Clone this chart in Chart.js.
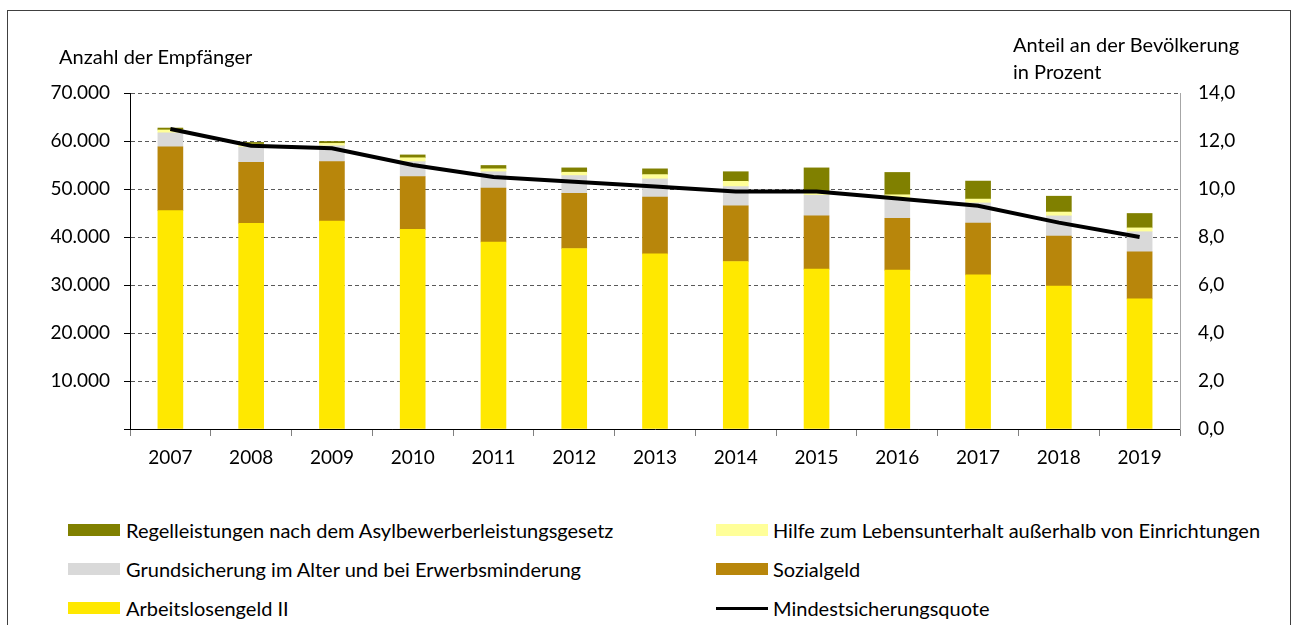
<!DOCTYPE html>
<html><head><meta charset="utf-8">
<script src="https://cdn.jsdelivr.net/npm/chart.js@4/dist/chart.umd.min.js"></script>
<style>
html,body{margin:0;padding:0;background:#fff;}
body{width:1298px;height:625px;position:relative;overflow:hidden;font-family:Lato,'Liberation Sans',sans-serif;color:#000;}
#frame{position:absolute;left:7px;top:10px;width:1284px;height:700px;border:1px solid #404040;box-sizing:border-box;}
#wrap{position:absolute;left:0;top:0;width:1298px;height:500px;}
.t{position:absolute;font-size:20px;line-height:22px;white-space:nowrap;}
.sw{position:absolute;width:52px;height:12px;}
.ln{position:absolute;width:52px;height:3px;background:#000;}
</style></head><body>
<div id="frame"></div>
<div id="wrap"><canvas id="c" width="1298" height="500"></canvas></div>
<div class="t" style="left:59px;top:45px;">Anzahl der Empfänger</div>
<div class="t" style="left:1013px;top:33px;">Anteil an der Bevölkerung</div>
<div class="t" style="left:1013px;top:60px;">in Prozent</div>

<div class="sw" style="left:68px;top:524px;background:#808000"></div>
<div class="t" style="left:126px;top:519px;">Regelleistungen nach dem Asylbewerberleistungsgesetz</div>
<div class="sw" style="left:68px;top:563px;background:#D9D9D9"></div>
<div class="t" style="left:126px;top:558px;">Grundsicherung im Alter und bei Erwerbsminderung</div>
<div class="sw" style="left:68px;top:602px;background:#FFE800"></div>
<div class="t" style="left:126px;top:597px;">Arbeitslosengeld II</div>

<div class="sw" style="left:716px;top:524px;background:#FFFF99"></div>
<div class="t" style="left:773px;top:519px;">Hilfe zum Lebensunterhalt außerhalb von Einrichtungen</div>
<div class="sw" style="left:716px;top:563px;background:#B8860B"></div>
<div class="t" style="left:773px;top:558px;">Sozialgeld</div>
<div class="ln" style="left:716px;top:607px;"></div>
<div class="t" style="left:773px;top:597px;">Mindestsicherungsquote</div>

<script>
const years = ['2007','2008','2009','2010','2011','2012','2013','2014','2015','2016','2017','2018','2019'];
const arbeitslosengeld2 = [45500, 42850, 43300, 41600, 38950, 37600, 36500, 34900, 33300, 33100, 32100, 29800, 27100];
const sozialgeld       = [13300, 12700, 12400, 11000, 11250, 11500, 11800, 11600, 11100, 10800, 10800, 10400, 9800];
const grundsicherung   = [2900, 3200, 3300, 3100, 3400, 3700, 3800, 4000, 4300, 4000, 4200, 4200, 4200];
const hilfeLebensunterhalt = [600, 600, 500, 800, 600, 700, 900, 1100, 700, 900, 800, 800, 800];
const asylbewerber     = [400, 350, 400, 600, 700, 900, 1200, 2000, 5000, 4650, 3750, 3300, 3000];
const quote            = [12.5, 11.8, 11.7, 11.0, 10.5, 10.3, 10.1, 9.9, 9.9, 9.6, 9.3, 8.6, 8.0];
const leftTicks = ['','10.000','20.000','30.000','40.000','50.000','60.000','70.000'];
const rightTicks = ['0,0','2,0','4,0','6,0','8,0','10,0','12,0','14,0'];

Chart.defaults.font.family = "Lato, 'Liberation Sans', sans-serif";
Chart.defaults.font.size = 19;
Chart.defaults.color = '#000';

const barBase = {type:'bar', yAxisID:'y', order:1, barThickness:25, borderWidth:0, stack:'s'};
new Chart(document.getElementById('c'), {
  data: {
    labels: years,
    datasets: [
      {type:'line', label:'Mindestsicherungsquote', data:quote, yAxisID:'y1', order:0,
       borderColor:'#000', borderWidth:4, pointRadius:0, tension:0, fill:false},
      Object.assign({label:'Arbeitslosengeld II', data:arbeitslosengeld2, backgroundColor:'#FFE800'}, barBase),
      Object.assign({label:'Sozialgeld', data:sozialgeld, backgroundColor:'#B8860B'}, barBase),
      Object.assign({label:'Grundsicherung im Alter und bei Erwerbsminderung', data:grundsicherung, backgroundColor:'#D9D9D9'}, barBase),
      Object.assign({label:'Hilfe zum Lebensunterhalt außerhalb von Einrichtungen', data:hilfeLebensunterhalt, backgroundColor:'#FFFF99'}, barBase),
      Object.assign({label:'Regelleistungen nach dem Asylbewerberleistungsgesetz', data:asylbewerber, backgroundColor:'#808000'}, barBase)
    ]
  },
  options: {
    responsive:false, animation:false,
    layout:{padding:{top:93,left:0,right:0,bottom:0}},
    plugins:{legend:{display:false}, tooltip:{enabled:false}},
    scales:{
      x:{stacked:true, offset:true,
         grid:{offset:true, drawOnChartArea:false, tickLength:7, tickColor:'#808080', tickBorderDash:[]},
         border:{color:'#000', width:1},
         ticks:{padding:10, maxRotation:0, autoSkip:false},
         afterFit:(s)=>{s.height=71;}},
      y:{stacked:true, position:'left', min:0, max:70000,
         ticks:{stepSize:10000, padding:14, callback:(v,i)=>leftTicks[i]},
         grid:{color:'#595959', lineWidth:1, tickLength:6, tickColor:'#000', tickBorderDash:[]},
         border:{color:'#000', width:1, dash:[4,3]},
         afterFit:(s)=>{s.width=130;}},
      y1:{position:'right', min:0, max:14,
         ticks:{stepSize:2, padding:18, callback:(v,i)=>rightTicks[i]},
         grid:{drawOnChartArea:false, drawTicks:false},
         border:{color:'#a6a6a6', width:1},
         afterFit:(s)=>{s.width=118;}}
    }
  }
});
</script>
</body></html>
